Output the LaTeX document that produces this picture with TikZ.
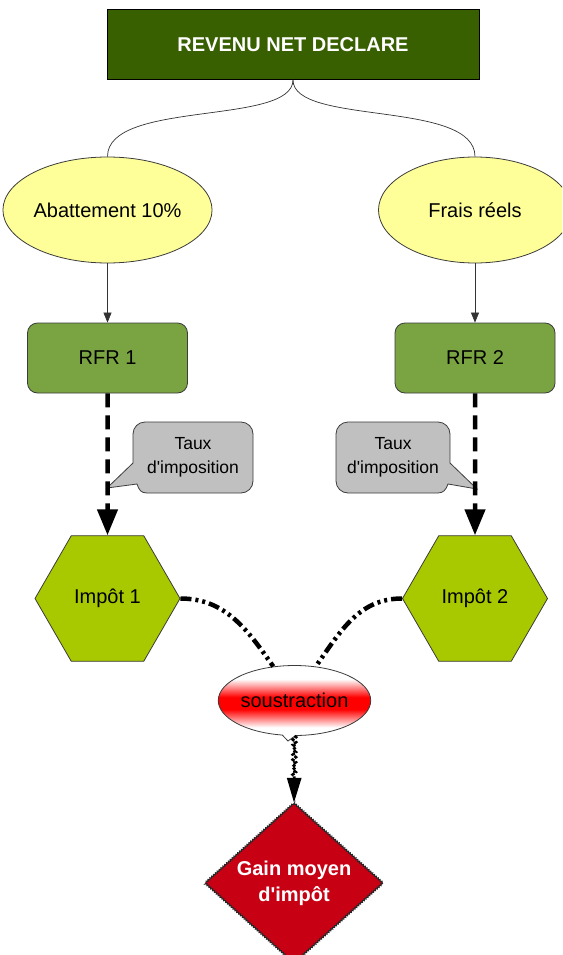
\documentclass[tikz,border=0pt]{standalone}
\usepackage{fontspec}
\setmainfont{Liberation Sans}[Ligatures=TeXOff]
\usetikzlibrary{shapes.geometric,shapes.callouts,arrows.meta,decorations.pathmorphing}
\definecolor{topgreen}{RGB}{56,96,0}
\definecolor{ovalyellow}{RGB}{255,255,153}
\definecolor{rfrgreen}{RGB}{122,163,66}
\definecolor{hexgreen}{RGB}{168,200,0}
\definecolor{callgray}{RGB}{192,192,192}
\definecolor{gainred}{RGB}{200,0,20}
\definecolor{edgegray}{RGB}{60,60,60}
\pgfdeclareverticalshading{redband}{100bp}{color(0bp)=(white); color(34bp)=(white); color(46bp)=(red); color(54bp)=(red); color(66bp)=(white); color(100bp)=(white)}
\begin{document}
\begin{tikzpicture}[x=1pt,y=1pt,
  txt/.style={font=\fontsize{20}{24}\selectfont, text=black},
  topbox/.style={rectangle, draw=black, line width=0.8pt, fill=topgreen, minimum width=372pt, minimum height=70pt, inner sep=0pt, text=white, font=\fontsize{20}{24}\selectfont\bfseries},
  oval/.style={ellipse, draw=edgegray, line width=0.8pt, fill=ovalyellow, minimum width=193pt, minimum height=106pt, inner sep=0pt, txt},
  rfrbox/.style={rectangle, rounded corners=10pt, draw=edgegray, line width=0.8pt, fill=rfrgreen, minimum width=160pt, minimum height=70pt, inner sep=0pt, txt},
  hexa/.style={regular polygon, regular polygon sides=6, draw=edgegray, line width=0.8pt, fill=hexgreen, minimum size=145pt, inner sep=0pt, txt},
  sousnode/.style={ellipse callout, callout pointer arc=10, draw=edgegray, line width=0.8pt, shade, shading=redband, minimum width=129pt, minimum height=70pt, inner sep=0pt, txt},
  gainnode/.style={diamond, aspect=1.1, fill=gainred, minimum width=178pt, minimum height=160pt, inner sep=0pt, align=center, text=white, font=\fontsize{20}{26}\selectfont\bfseries,
    postaction={draw=black!85, line width=1pt, decorate, decoration={zigzag, amplitude=0.8pt, segment length=2.5pt}}},
  callshape/.style={fill=callgray, draw=edgegray, line width=0.8pt},
  calltext/.style={align=center, inner sep=0pt, font=\fontsize{17.5}{24}\selectfont},
  thinline/.style={draw=black!80, line width=0.7pt},
  thinarrow/.style={thinline, -{Triangle[length=10pt,width=8pt]}},
  bigdash/.style={line width=4.5pt, dash pattern=on 14pt off 8pt, -{Triangle[length=26pt,width=20pt]}},
  dashdots/.style={line width=4.5pt, dash pattern=on 11pt off 4pt on 3pt off 4pt on 3pt off 4pt},
  zigarrow/.style={line width=2.8pt, dash pattern=on 3pt off 1.5pt, decorate, decoration={zigzag, amplitude=1.5pt, segment length=5pt, post=lineto, post length=26pt}, -{Triangle[length=25pt,width=14pt]}}
]
\useasboundingbox (0,0) rectangle (562,-955);
\clip (0,0) rectangle (562,-955);

% nodes
\node[topbox] (top) at (293,-44.5) {REVENU NET DECLARE};
\node[oval] (abat) at (107.5,-210) {Abattement 10\%};
\node[oval] (frais) at (475,-210) {Frais réels};
\node[rfrbox] (rfr1) at (107.5,-358) {RFR 1};
\node[rfrbox] (rfr2) at (475,-358) {RFR 2};
\node[hexa] (imp1) at (107.5,-598.5) {Impôt 1};
\node[hexa] (imp2) at (475,-598.5) {Impôt 2};
\node[sousnode, callout absolute pointer={(288,-741)}] (sous) at (294.5,-700.5) {soustraction};
\node[gainnode] (gain) at (294,-883) {Gain moyen\\d'impôt};

% callouts
\path[callshape] (145,-422) -- (241,-422) arc[start angle=90,end angle=0,radius=12] -- (253,-481) arc[start angle=0,end angle=-90,radius=12] -- (147,-493) .. controls (141,-493) and (139,-490) .. (137,-484) -- (107,-488) -- (133,-463) -- (133,-434) arc[start angle=180,end angle=90,radius=12] -- cycle;
\node[calltext] (taux1) at (193,-457.5) {Taux\\d'imposition};
\path[callshape] (348,-422) -- (438,-422) arc[start angle=90,end angle=0,radius=12] -- (450,-463) -- (477,-489) -- (448,-484) .. controls (446,-490) and (443,-493) .. (438,-493) -- (348,-493) arc[start angle=-90,end angle=-180,radius=12] -- (336,-434) arc[start angle=180,end angle=90,radius=12] -- cycle;
\node[calltext] (taux2) at (393,-457.5) {Taux\\d'imposition};

% connectors
\draw[thinline] (top.south) .. controls +(0,-46) and +(0,57) .. (abat.north);
\draw[thinline] (top.south) .. controls +(0,-46) and +(0,57) .. (frais.north);
\draw[thinarrow] (abat.south) -- (rfr1.north);
\draw[thinarrow] (frais.south) -- (rfr2.north);
\draw[bigdash] (rfr1.south) -- (imp1.north);
\draw[bigdash] (rfr2.south) -- (imp2.north);
\draw[dashdots] (imp1.east) to[out=0,in=125] (sous.122);
\draw[dashdots] (imp2.west) to[out=180,in=55] (sous.58);
\draw[zigarrow] (sous.south) -- (gain.north);
\end{tikzpicture}
\end{document}
